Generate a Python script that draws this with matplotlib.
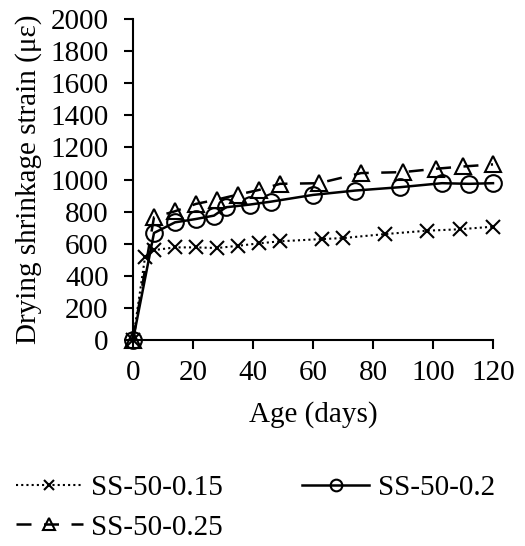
import numpy as np
import matplotlib
matplotlib.use('Agg')
import matplotlib.pyplot as plt

plt.rcParams['font.family'] = ['Liberation Serif', 'DejaVu Serif']

# SS-50-0.15
d1 = [0, 4, 7, 14, 21, 28, 35, 42, 49, 63, 70, 84, 98, 109, 120]
s1 = [0, 515, 560, 577, 577, 573, 587, 602, 615, 629, 635, 660, 681, 690, 706]
# SS-50-0.2
d2 = [0, 7, 14, 21, 27, 31, 39, 46, 60, 74, 89, 103, 112, 120]
s2 = [0, 667, 733, 754, 775, 827, 844, 862, 904, 931, 952, 977, 973, 977]
# SS-50-0.25
d3 = [0, 7, 14, 21, 28, 35, 42, 49, 62, 76, 90, 101, 110, 120]
s3 = [0, 765, 802, 848, 875, 906, 935, 973, 977, 1040, 1046, 1067, 1081, 1094]

labels = ["SS-50-0.15", "SS-50-0.2", "SS-50-0.25"]
fs = 21

fig = plt.figure(figsize=(5.25, 5.46), dpi=100)
ax = fig.add_axes([133/525, 1-340/546, 360/525, 321/546])

l1, = ax.plot(d1, s1, color="black", linestyle=(0, (1, 1.5)), linewidth=1.5,
              marker="x", markersize=10, markeredgewidth=1.5, label=labels[0], clip_on=False)
l2, = ax.plot(d2, s2, color="black", linestyle="-", linewidth=1.8,
              marker="o", markersize=12, markerfacecolor="none", markeredgewidth=1.5,
              label=labels[1], clip_on=False)
l3, = ax.plot(d3, s3, color="black", linestyle=(0, (6, 5)), linewidth=1.8,
              marker="^", markersize=12, markerfacecolor="none", markeredgewidth=1.5,
              label=labels[2], clip_on=False)

ax.set_xlim(0, 120)
ax.set_ylim(0, 2000)
ax.set_xticks(np.arange(0, 121, 20))
ax.set_yticks(np.arange(0, 2001, 200))
ax.spines['top'].set_visible(False)
ax.spines['right'].set_visible(False)
for sp in ('left', 'bottom'):
    ax.spines[sp].set_linewidth(1.5)
ax.tick_params(axis='both', labelsize=fs, width=1.5, length=6.5, direction='out')
ax.tick_params(axis='y', pad=11)
ax.tick_params(axis='x', pad=8)
ax.set_xlabel("Age (days)", fontsize=fs, labelpad=11)
ax.set_ylabel("Drying shrinkage strain (\u03bc\u03b5)", fontsize=fs, labelpad=6)

# row-wise order: 0.15, 0.2 / 0.25
ax.legend([l1, l3, l2], [labels[0], labels[2], labels[1]],
          loc='upper left', bbox_to_anchor=(-129/360, -123/321), ncol=2, frameon=False,
          fontsize=fs, handlelength=2.3, handletextpad=0.3, columnspacing=2.7,
          labelspacing=0.45, markerscale=0.7, borderaxespad=0)

fig.savefig("out.png", dpi=100)
